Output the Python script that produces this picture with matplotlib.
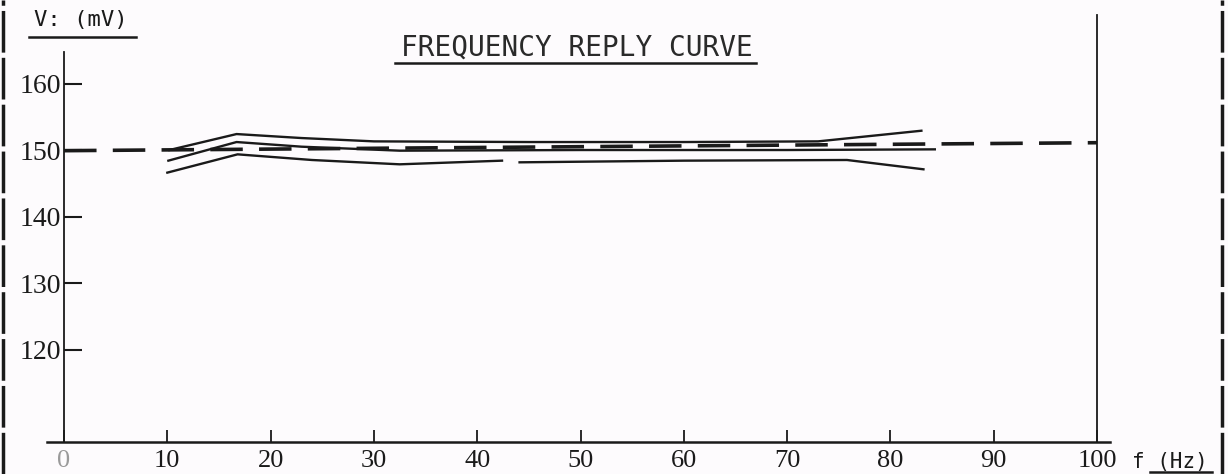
import numpy as np
import matplotlib
matplotlib.use("Agg")
from matplotlib import pyplot as plt
from matplotlib.lines import Line2D

# values (f in Hz, V in mV)
upper_f = [10.2, 16.7, 23, 30, 45, 60, 73, 83]
upper_v = [150.0, 152.4, 151.8, 151.3, 151.2, 151.2, 151.3, 152.9]

middle_f = [10.1, 16.7, 23, 32.5, 50, 70, 84.3]
middle_v = [148.4, 151.2, 150.5, 149.9, 150.0, 150.0, 150.1]

lower_f = [10.0, 16.8, 24, 32.5, 42.4, np.nan, 44.1, 60, 75.8, 83.2]
lower_v = [146.6, 149.35, 148.5, 147.85, 148.4, np.nan, 148.15, 148.4, 148.5, 147.1]

ref_f = [0, 100]
ref_v = [149.9, 151.1]

x_ticks = [0, 10, 20, 30, 40, 50, 60, 70, 80, 90, 100]
y_ticks = [120, 130, 140, 150, 160]
y_labels = ["120", "130", "140", "150", "160"]

W, H = 1228, 474
bg = "#fdfbfd"
ink = "#1a1a1a"

fig = plt.figure(figsize=(W / 100, H / 100), dpi=100, facecolor=bg)
# axes box: px 47..1110 horizontally, py 15..442 vertically
ax = fig.add_axes([47 / W, (H - 442) / H, (1110 - 47) / W, (442 - 15) / H])
ax.set_facecolor(bg)
ax.set_xlim(-1.65, 101.26)
ax.set_ylim(106.1, 170.3)

ax.plot(ref_f, ref_v, color=ink, lw=2.6, dashes=(9, 4.5), solid_capstyle="butt")
for fx, vy in [(upper_f, upper_v), (middle_f, middle_v), (lower_f, lower_v)]:
    ax.plot(fx, vy, color=ink, lw=1.7)

ax.spines["top"].set_visible(False)
ax.spines["left"].set_position(("data", 0))
ax.spines["left"].set_bounds(106.1, 164.7)
ax.spines["left"].set_linewidth(1.3)
ax.spines["right"].set_position(("data", 100))
ax.spines["right"].set_linewidth(1.3)
ax.spines["bottom"].set_linewidth(1.8)
for s in ax.spines.values():
    s.set_color(ink)

ax.set_xticks(x_ticks)
ax.set_xticklabels([str(t) for t in x_ticks])
ax.set_yticks(y_ticks)
ax.set_yticklabels(y_labels)
ax.tick_params(axis="x", direction="in", length=8.5, width=1.3, pad=6,
               labelsize=19, colors=ink)
ax.tick_params(axis="y", direction="in", length=13, width=1.5, pad=2,
               labelsize=20, colors=ink)
ax.tick_params(axis="y", which="both", right=False)
for lab in ax.get_xticklabels() + ax.get_yticklabels():
    lab.set_fontfamily("Liberation Serif")
ax.get_xticklabels()[0].set_color("#9a9a9a")

mono = "DejaVu Sans Mono"
fig.text(577 / W, 1 - 48 / H, "FREQUENCY REPLY CURVE", family=mono, fontsize=20,
         ha="center", va="center", color="#2a2a2a")
fig.add_artist(Line2D([395 / W, 756 / W], [1 - 63 / H] * 2, color=ink, lw=1.8))

fig.text(81 / W, 1 - 20 / H, "V: (mV)", family=mono, fontsize=16,
         ha="center", va="center", color=ink)
fig.add_artist(Line2D([29 / W, 136 / W], [1 - 37 / H] * 2, color=ink, lw=1.8))

fig.text(1132 / W, 1 - 462 / H, "f (Hz)", family=mono, fontsize=15,
         ha="left", va="center", color=ink)
fig.add_artist(Line2D([1150 / W, 1212 / W], [1 - 472 / H] * 2, color=ink, lw=1.8))

# scan edges
fig.add_artist(Line2D([3 / W, 3 / W], [0, 1], color=ink, lw=2.5, dashes=(12, 1.5)))
fig.add_artist(Line2D([1222 / W, 1222 / W], [0, 1], color=ink, lw=2.5, dashes=(12, 1.5)))

fig.savefig("out.png", dpi=100, facecolor=bg)
